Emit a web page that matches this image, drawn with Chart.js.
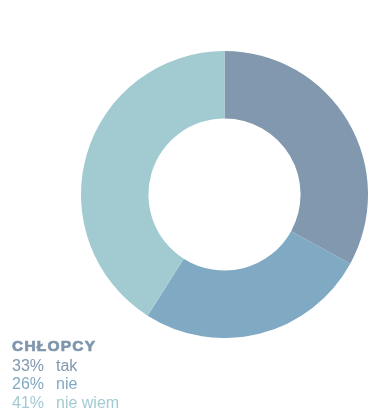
<!DOCTYPE html>
<html>
<head>
<meta charset="utf-8">
<script src="https://cdn.jsdelivr.net/npm/chart.js@4/dist/chart.umd.min.js"></script>
<style>
  html, body { margin: 0; padding: 0; background: #fff; }
  body { width: 369px; height: 413px; position: relative; overflow: hidden;
         font-family: "Liberation Sans", Arial, sans-serif; }
  .donut { position: absolute; left: 81px; top: 51px; width: 287px; height: 287px; }
  .legend { position: absolute; left: 12px; top: 335px; font-size: 16px; line-height: 18.7px; }
  .legend h4 { margin: 0; font-size: 15.5px; line-height: 21.5px; font-weight: bold; color: #7f96ad;
               letter-spacing: 1.2px; -webkit-text-stroke: 0.7px #7f96ad; }
  .legend div span { display: inline-block; width: 44px; }
</style>
</head>
<body>
<div class="donut"><canvas id="chart"></canvas></div>
<div class="legend" id="legend"></div>
<script>
// Survey answers for boys, drawn as a ring with a text legend below.
const TITLE = "CHŁOPCY";
const labels = ["tak", "nie", "nie wiem"];
const values = [33, 26, 41];
const colors = ["#8198ae", "#80a9c3", "#a1cbd1"];

new Chart(document.getElementById("chart"), {
  type: "doughnut",
  data: {
    labels,
    datasets: [{
      data: values,
      backgroundColor: colors,
      borderWidth: 0,
    }],
  },
  options: {
    responsive: true,
    maintainAspectRatio: false,
    animation: false,
    cutout: "53%",
    layout: { padding: 0 },
    plugins: { legend: { display: false }, tooltip: { enabled: false } },
  },
});

const legend = document.getElementById("legend");
legend.innerHTML = `<h4>${TITLE}</h4>` + labels.map((l, i) =>
  `<div style="color:${colors[i]}"><span>${values[i]}%</span>${l}</div>`).join("");
</script>
</body>
</html>
